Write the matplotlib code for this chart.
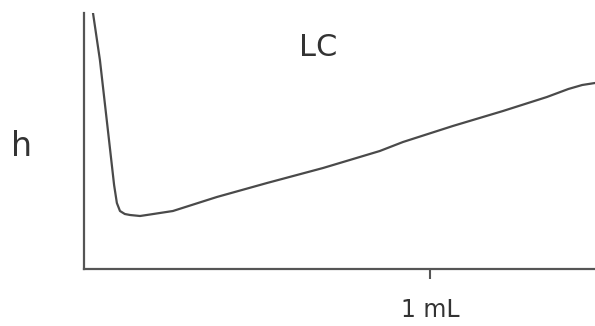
import numpy as np
import matplotlib.pyplot as plt

# sketch of h vs volume (mL)
volume = [0.026, 0.046, 0.069, 0.087, 0.095, 0.104, 0.118, 0.133, 0.162, 0.191, 0.257, 0.384,
          0.529, 0.691, 0.855, 0.922, 1.066, 1.211, 1.338, 1.400, 1.440, 1.477]
h = [2.56, 2.09, 1.39, 0.84, 0.66, 0.58, 0.55, 0.54, 0.53, 0.545, 0.58, 0.72,
     0.86, 1.01, 1.18, 1.27, 1.43, 1.58, 1.72, 1.80, 1.84, 1.86]
xticks = [1]
xticklabels = ["1 mL"]

ink = '#4a4a4a'

fig = plt.figure(figsize=(5.95, 3.26), dpi=100)
ax = fig.add_axes([84/595, 57/326, 511/595, 256/326])
ax.plot(volume, h, color=ink, linewidth=1.6, solid_capstyle='round', solid_joinstyle='round')
ax.set_xlim(0, 1.477)
ax.set_ylim(0, 2.56)

for s in ['top', 'right']:
    ax.spines[s].set_visible(False)
for s in ['left', 'bottom']:
    ax.spines[s].set_color('#555555')
    ax.spines[s].set_linewidth(1.6)

ax.set_yticks([])
ax.set_xticks(xticks)
ax.set_xticklabels(xticklabels, fontsize=17, color='#333333')
ax.tick_params(axis='x', direction='out', length=7, width=1.5, color='#555555', pad=14)

fig.text(22/595, 1 - 146/326, 'h', fontsize=24, color='#333333', ha='center', va='center')
fig.text(318/595, 1 - 47/326, 'LC', fontsize=22, color='#333333', ha='center', va='center')

fig.savefig('out.png', dpi=100, facecolor='white')
